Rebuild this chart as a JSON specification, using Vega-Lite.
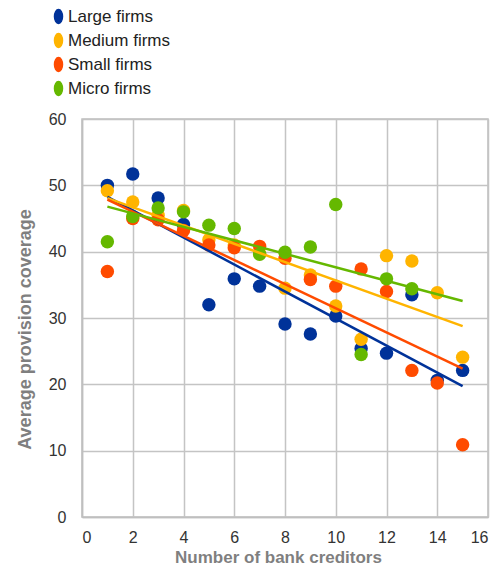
{
  "$schema": "https://vega.github.io/schema/vega-lite/v6.json",
  "width": 406,
  "height": 398,
  "autosize": {"type": "none"},
  "padding": {"left": 82, "top": 119, "right": 12, "bottom": 53},
  "background": "white",
  "config": {
    "font": "Liberation Sans",
    "view": {"stroke": "#bfbfbf", "strokeWidth": 1.5},
    "axis": {
      "gridColor": "#c4c4c4", "gridWidth": 1.5, "domainColor": "#bfbfbf", "domainWidth": 1.5,
      "ticks": false, "labelFontSize": 16, "labelColor": "#333333",
      "titleFontSize": 18, "titleColor": "#7f7f7f", "titleFontWeight": "bold"
    }
  },
  "data": {"values": [
    {"n":1,"v":50.0,"s":"Large firms"},{"n":2,"v":51.7,"s":"Large firms"},{"n":3,"v":48.1,"s":"Large firms"},{"n":4,"v":44.1,"s":"Large firms"},{"n":5,"v":32.0,"s":"Large firms"},{"n":6,"v":35.9,"s":"Large firms"},{"n":7,"v":34.8,"s":"Large firms"},{"n":8,"v":29.1,"s":"Large firms"},{"n":9,"v":27.6,"s":"Large firms"},{"n":10,"v":30.3,"s":"Large firms"},{"n":11,"v":25.4,"s":"Large firms"},{"n":12,"v":24.7,"s":"Large firms"},{"n":13,"v":33.5,"s":"Large firms"},{"n":14,"v":20.6,"s":"Large firms"},{"n":15,"v":22.1,"s":"Large firms"},
    {"n":1,"v":49.2,"s":"Medium firms"},{"n":2,"v":47.5,"s":"Medium firms"},{"n":3,"v":45.5,"s":"Medium firms"},{"n":4,"v":46.2,"s":"Medium firms"},{"n":5,"v":41.8,"s":"Medium firms"},{"n":6,"v":41.0,"s":"Medium firms"},{"n":7,"v":39.7,"s":"Medium firms"},{"n":8,"v":34.5,"s":"Medium firms"},{"n":9,"v":36.5,"s":"Medium firms"},{"n":10,"v":31.8,"s":"Medium firms"},{"n":11,"v":26.8,"s":"Medium firms"},{"n":12,"v":39.4,"s":"Medium firms"},{"n":13,"v":38.6,"s":"Medium firms"},{"n":14,"v":33.8,"s":"Medium firms"},{"n":15,"v":24.1,"s":"Medium firms"},
    {"n":1,"v":37.0,"s":"Small firms"},{"n":2,"v":45.0,"s":"Small firms"},{"n":3,"v":44.8,"s":"Small firms"},{"n":4,"v":43.2,"s":"Small firms"},{"n":5,"v":41.0,"s":"Small firms"},{"n":6,"v":40.6,"s":"Small firms"},{"n":7,"v":40.8,"s":"Small firms"},{"n":8,"v":39.0,"s":"Small firms"},{"n":9,"v":35.8,"s":"Small firms"},{"n":10,"v":34.8,"s":"Small firms"},{"n":11,"v":37.4,"s":"Small firms"},{"n":12,"v":34.0,"s":"Small firms"},{"n":13,"v":22.1,"s":"Small firms"},{"n":14,"v":20.2,"s":"Small firms"},{"n":15,"v":10.9,"s":"Small firms"},
    {"n":1,"v":41.5,"s":"Micro firms"},{"n":2,"v":45.3,"s":"Micro firms"},{"n":3,"v":46.6,"s":"Micro firms"},{"n":4,"v":46.0,"s":"Micro firms"},{"n":5,"v":44.0,"s":"Micro firms"},{"n":6,"v":43.5,"s":"Micro firms"},{"n":7,"v":39.6,"s":"Micro firms"},{"n":8,"v":39.9,"s":"Micro firms"},{"n":9,"v":40.7,"s":"Micro firms"},{"n":10,"v":47.1,"s":"Micro firms"},{"n":11,"v":24.5,"s":"Micro firms"},{"n":12,"v":35.9,"s":"Micro firms"},{"n":13,"v":34.4,"s":"Micro firms"}
  ]},
  "encoding": {
    "x": {"field": "n", "type": "quantitative", "scale": {"domain": [0, 16], "nice": false}, "axis": {"values": [0,2,4,6,8,10,12,14,16], "title": "Number of bank creditors", "labelPadding": 12, "titlePadding": 4, "titleFontSize": 17, "titleX": 196}},
    "y": {"field": "v", "type": "quantitative", "scale": {"domain": [0, 60], "nice": false}, "axis": {"values": [0,10,20,30,40,50,60], "title": "Average provision coverage", "labelPadding": 16, "titlePadding": 14, "titleY": 210}},
    "color": {"field": "s", "type": "nominal", "scale": {"domain": ["Large firms","Medium firms","Small firms","Micro firms"], "range": ["#003299","#FFB400","#FF4B00","#65B800"]},
      "legend": {"title": null, "orient": "none", "legendX": -32, "legendY": -111, "labelFontSize": 17, "labelColor": "#222222", "symbolType": "M0,-1A0.57,1 0 1,1 0,1A0.57,1 0 1,1 0,-1Z", "symbolSize": 196, "rowPadding": 3, "labelOffset": 1}}
  },
  "layer": [
    {"mark": {"type": "point", "filled": true, "opacity": 1, "size": 180, "shape": "circle"}},
    {"transform": [{"regression": "v", "on": "n", "groupby": ["s"], "extent": [1, 15]}],
     "mark": {"type": "line", "strokeWidth": 2.5}}
  ]
}
